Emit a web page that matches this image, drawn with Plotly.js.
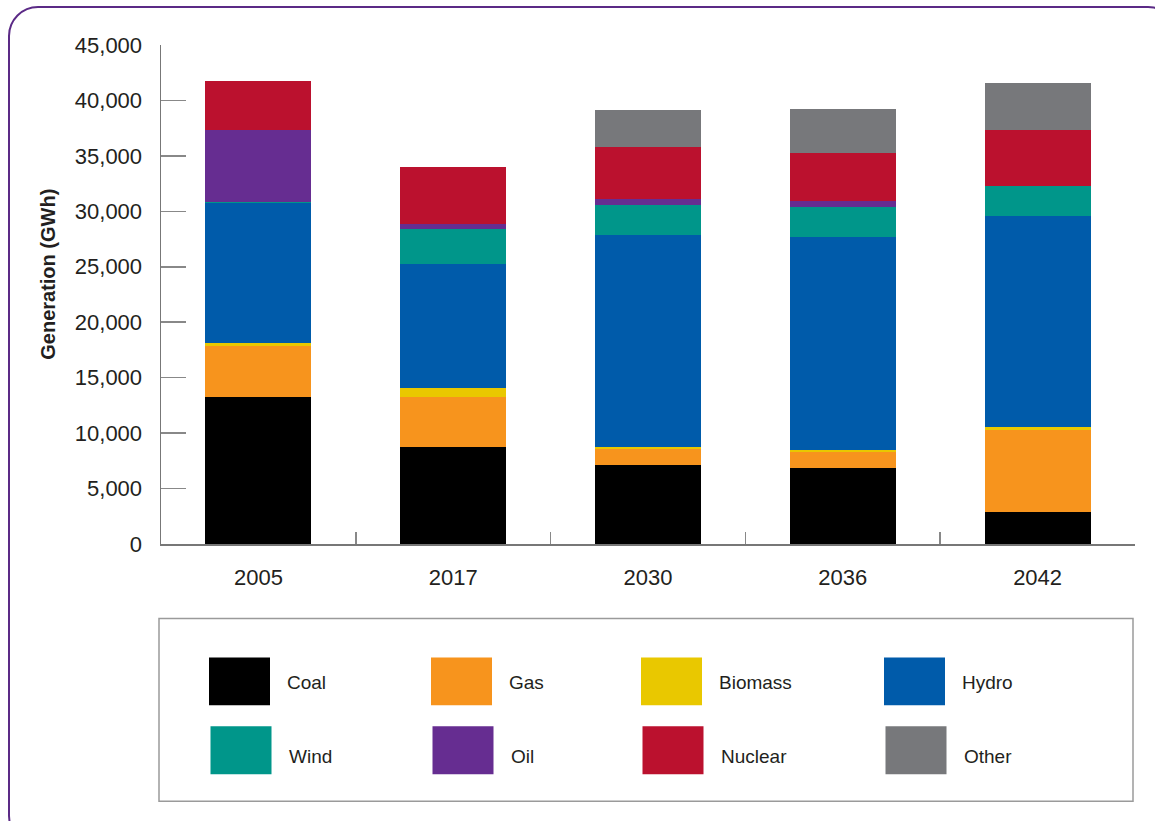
<!DOCTYPE html>
<html>
<head>
<meta charset="utf-8">
<script src="https://cdn.plot.ly/plotly-3.0.1.min.js"></script>
<style>
  html, body { margin:0; padding:0; width:1155px; height:821px; overflow:hidden; background:#fff; }
  #frame { position:absolute; left:8px; top:6px; width:1170px; height:840px; border:2px solid #5b2a86; border-radius:30px; box-sizing:border-box; }
  #chart { position:absolute; left:0; top:0; width:1155px; height:821px; }
</style>
</head>
<body>
<div id="frame"></div>
<div id="chart"></div>
<script>
const years = ['2005', '2017', '2030', '2036', '2042'];
const seriesNames = ['Coal', 'Gas', 'Biomass', 'Hydro', 'Wind', 'Oil', 'Nuclear', 'Other'];
const seriesColors = ['#000000', '#f7941d', '#e9c800', '#005baa', '#00968a', '#662d91', '#bb112e', '#77787b'];
const coal    = [13300, 8780, 7160, 6890, 2930];
const gas     = [4600, 4500, 1440, 1440, 7320];
const biomass = [270, 810, 180, 180, 270];
const hydro   = [12550, 11170, 19090, 19180, 19090];
const wind    = [100, 3150, 2700, 2700, 2700];
const oil     = [6550, 480, 540, 540, 0];
const nuclear = [4400, 5100, 4680, 4320, 5040];
const other   = [0, 0, 3330, 3960, 4200];
const yTicks  = [0, 5000, 10000, 15000, 20000, 25000, 30000, 35000, 40000, 45000];
const yTickLabels = ['0', '5,000', '10,000', '15,000', '20,000', '25,000', '30,000', '35,000', '40,000', '45,000'];
const yTitle = 'Generation (GWh)';

const seriesValues = [coal, gas, biomass, hydro, wind, oil, nuclear, other];
const FONT = '"Liberation Sans", Arial, Helvetica, sans-serif';
const TEXT = '#231f20';

const traces = seriesNames.map((name, i) => ({
  type: 'bar', name: name, x: years, y: seriesValues[i],
  marker: { color: seriesColors[i], line: { width: 0 } },
  hoverinfo: 'x+y+name'
}));

// plot area geometry (px)
const L = 161, R = 1135, T = 45, B = 544.5;
const W = R - L, H = B - T;
const px = v => (v - L) / W;
const py = v => (B - v) / H;

const shapes = [];
const annotations = [];
// legend box
shapes.push({ type: 'rect', xref: 'paper', yref: 'paper', x0: px(159), x1: px(1133), y0: py(619), y1: py(802),
  line: { color: '#9a9a9a', width: 1.5 }, fillcolor: 'rgba(0,0,0,0)' });
const colX = [209, 431, 641, 884];
const rowY = [658, 727];
const labelDX = 76;
seriesNames.forEach((name, i) => {
  const r = Math.floor(i / 4), c = i % 4;
  const x0 = colX[c] + (r === 1 ? 1.5 : 0), y0 = rowY[r];
  shapes.push({ type: 'rect', xref: 'paper', yref: 'paper', x0: px(x0), x1: px(x0 + 61), y0: py(y0), y1: py(y0 + 48),
    line: { width: 0 }, fillcolor: seriesColors[i] });
  annotations.push({ xref: 'paper', yref: 'paper', x: px(x0 + labelDX), y: py(y0 + 25 + (r === 1 ? 5 : 0)),
    xanchor: 'left', yanchor: 'middle', showarrow: false, text: name,
    font: { family: FONT, size: 19, color: TEXT } });
});
// y axis title
annotations.push({ xref: 'paper', yref: 'paper', x: px(48), y: py(275), xanchor: 'center', yanchor: 'middle',
  showarrow: false, textangle: -90, text: '<b>' + yTitle + '</b>',
  font: { family: FONT, size: 20, color: TEXT } });

const layout = {
  width: 1155, height: 821,
  margin: { l: L, r: 1155 - R, t: T, b: 821 - B, pad: 0 },
  paper_bgcolor: 'rgba(0,0,0,0)', plot_bgcolor: 'rgba(0,0,0,0)',
  barmode: 'stack', bargap: 0.456,
  showlegend: false,
  font: { family: FONT, size: 21, color: TEXT },
  xaxis: {
    type: 'category', tickson: 'boundaries', ticks: 'inside', ticklen: 12, tickwidth: 1.5, tickcolor: '#888',
    showline: true, linecolor: '#777', linewidth: 1.5, showgrid: false, zeroline: false,
    tickfont: { family: FONT, size: 22, color: TEXT }, ticklabelstandoff: 13
  },
  yaxis: {
    range: [0, 45000], tickvals: yTicks, ticktext: yTickLabels, ticks: 'inside', ticklen: 25, tickwidth: 1.5,
    tickcolor: '#888', showline: true, linecolor: '#777', linewidth: 1.5, showgrid: false, zeroline: false,
    tickfont: { family: FONT, size: 22, color: TEXT }, ticklabelstandoff: 13
  },
  shapes: shapes, annotations: annotations
};

Plotly.newPlot('chart', traces, layout, { displayModeBar: false, staticPlot: true });
</script>
</body>
</html>
